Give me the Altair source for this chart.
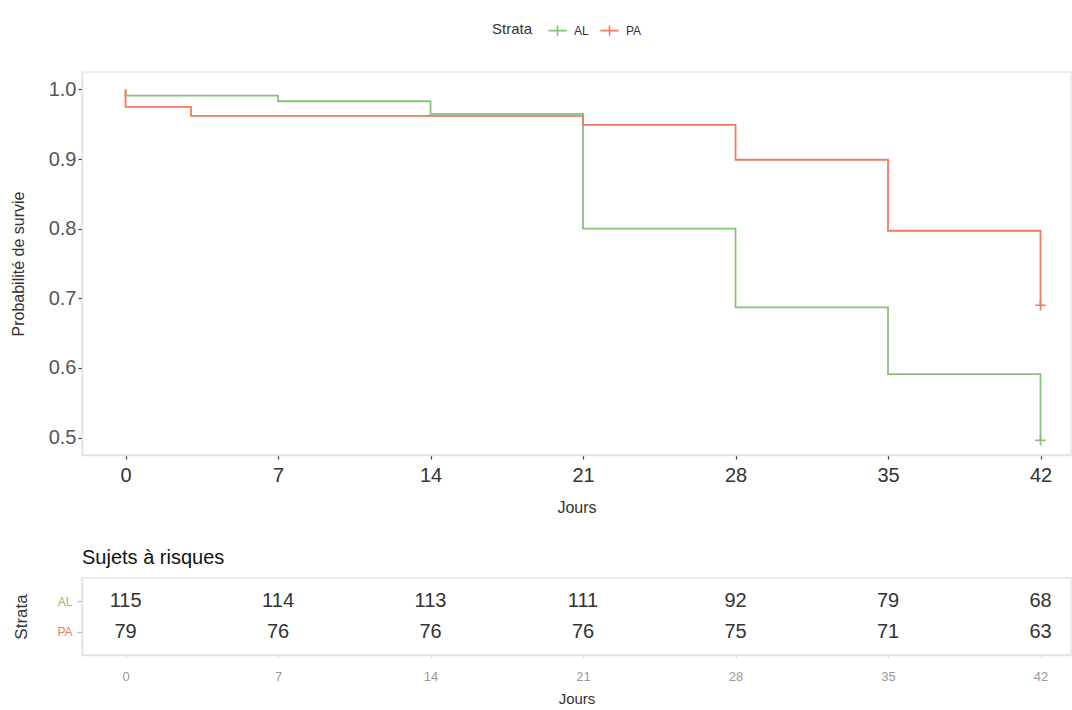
import altair as alt
import pandas as pd

# Strata and their colours
groups = ["AL", "PA"]
colors = ["#86c376", "#ee7b62"]

# Kaplan-Meier steps (day, survival probability)
al_days = [0, 0, 7, 14, 21, 28, 35, 42]
al_surv = [1.0, 0.991, 0.983, 0.965, 0.800, 0.687, 0.591, 0.496]
pa_days = [0, 0, 3, 21, 28, 35, 42]
pa_surv = [1.0, 0.975, 0.962, 0.949, 0.899, 0.797, 0.690]

# Censoring marks at end of follow-up
censor_group = ["AL", "PA"]
censor_days = [42, 42]
censor_surv = [0.496, 0.690]

# Number at risk table
risk_days = [0, 7, 14, 21, 28, 35, 42]
al_risk = [115, 114, 113, 111, 92, 79, 68]
pa_risk = [79, 76, 76, 76, 75, 71, 63]

day_ticks = [0, 7, 14, 21, 28, 35, 42]

curve = pd.DataFrame(
    [{"grp": "AL", "day": d, "surv": s, "k": i} for i, (d, s) in enumerate(zip(al_days, al_surv))]
    + [{"grp": "PA", "day": d, "surv": s, "k": i} for i, (d, s) in enumerate(zip(pa_days, pa_surv))]
)
censor = pd.DataFrame({"grp": censor_group, "day": censor_days, "surv": censor_surv})
risk = pd.DataFrame(
    [{"grp": "AL", "day": d, "n": n} for d, n in zip(risk_days, al_risk)]
    + [{"grp": "PA", "day": d, "n": n} for d, n in zip(risk_days, pa_risk)]
)

FONT = "Liberation Sans"
PLUS = "M-1,0H1M0,-1V1"
PLUS_WIDE = "M-1,0H1M0,-0.55V0.55"
x_dom = [-2.0, 43.4]
W = 989

color = alt.Color(
    "grp:N",
    scale=alt.Scale(domain=groups, range=colors),
    legend=alt.Legend(
        title="Strata",
        orient="none",
        legendX=410,
        legendY=-52,
        direction="horizontal",
        titleOrient="left",
        titleFontSize=15,
        titleFontWeight="normal",
        titleColor="#333333",
        titlePadding=14,
        labelFontSize=12,
        labelColor="#333333",
        labelOffset=6,
        symbolType=PLUS_WIDE,
        symbolSize=340,
        symbolStrokeWidth=1.6,
        symbolFillColor="transparent",
        columnPadding=8,
    ),
)

x_top = alt.X(
    "day:Q",
    scale=alt.Scale(domain=x_dom, nice=False, zero=False),
    axis=alt.Axis(
        title="Jours",
        values=day_ticks,
        grid=False,
        labelFontSize=20,
        labelColor="#333333",
        labelPadding=6,
        tickSize=4,
        titleFontSize=16,
        titleFontWeight="normal",
        titleColor="#333333",
        titlePadding=14,
    ),
)
y_top = alt.Y(
    "surv:Q",
    scale=alt.Scale(domain=[0.475, 1.025], nice=False, zero=False),
    axis=alt.Axis(
        title="Probabilité de survie",
        values=[0.5, 0.6, 0.7, 0.8, 0.9, 1.0],
        format=".1f",
        grid=False,
        labelFontSize=20,
        labelColor="#555555",
        labelPadding=2,
        tickSize=4,
        titleFontSize=16,
        titleFontWeight="normal",
        titleColor="#333333",
        titlePadding=22,
    ),
)

lines = alt.Chart(curve).mark_line(interpolate="step-after", strokeWidth=1.8).encode(
    x=x_top, y=y_top, color=color, order="k:Q"
)
marks = alt.Chart(censor).mark_point(shape=PLUS, filled=False, size=110, strokeWidth=1.6, opacity=1).encode(
    x="day:Q", y="surv:Q", color=alt.Color("grp:N", scale=alt.Scale(domain=groups, range=colors))
)
top = alt.layer(lines, marks).properties(width=W, height=383)

table = alt.Chart(risk, title=alt.Title(
    "Sujets à risques", anchor="start", frame="group", fontSize=20, fontWeight="normal",
    color="#111111", offset=10
)).mark_text(fontSize=20, color="#333333", font=FONT).encode(
    x=alt.X(
        "day:Q",
        scale=alt.Scale(domain=x_dom, nice=False, zero=False),
        axis=alt.Axis(
            title="Jours",
            values=day_ticks,
            grid=False,
            labelFontSize=13,
            labelColor="#999999",
            labelPadding=12,
            tickSize=3,
            tickColor="#dddddd",
            titleFontSize=15,
            titleFontWeight="normal",
            titleColor="#333333",
            titlePadding=8,
        ),
    ),
    y=alt.Y(
        "grp:N",
        scale=alt.Scale(type="point", domain=groups, padding=0.78),
        axis=alt.Axis(
            title="Strata",
            grid=False,
            labelFontSize=12,
            labelColor=alt.condition("datum.value == 'AL'", alt.value(colors[0]), alt.value(colors[1])),
            labelPadding=5,
            tickSize=5,
            tickColor="#bbbbbb",
            titleFontSize=17,
            titleFontWeight="normal",
            titleColor="#333333",
            titlePadding=26,
        ),
    ),
    text="n:Q",
).properties(width=W, height=77)

chart = alt.vconcat(top, table, spacing=31).properties(
    padding={"left": 9, "top": 20, "right": 0, "bottom": 0},
    background="white",
).configure(font=FONT).configure_view(
    stroke="#e8e8e8", strokeWidth=1.5
).configure_axis(
    domainColor="#e3e3e3", domainWidth=1.5, tickColor="#444444", tickWidth=1.2
)

chart.save("out.html", embed_options={"renderer": "svg", "actions": False})
